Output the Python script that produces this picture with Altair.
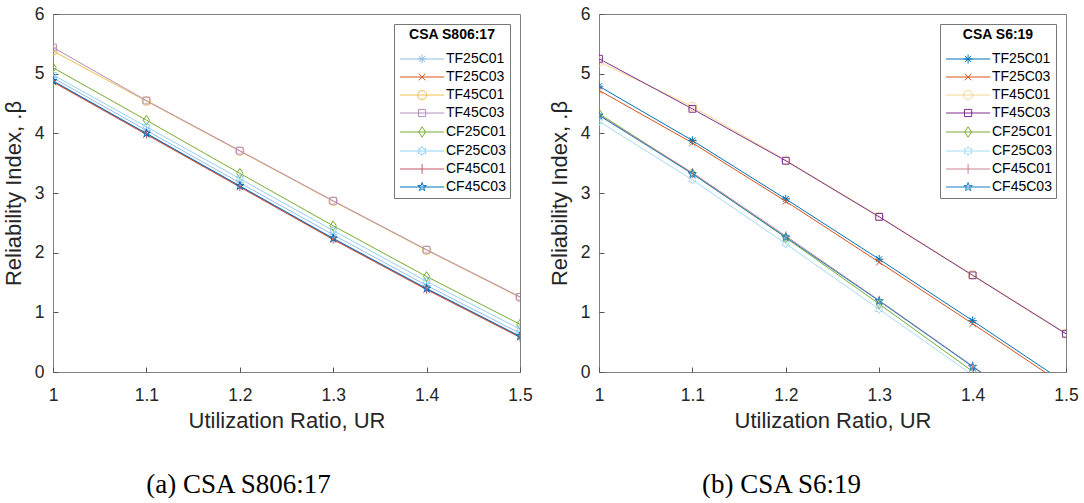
import re
import altair as alt
import pandas as pd

# ---------------- data ----------------
ur = [1.0, 1.1, 1.2, 1.3, 1.4, 1.5]
series = ["TF25C01", "TF25C03", "TF45C01", "TF45C03",
          "CF25C01", "CF25C03", "CF45C01", "CF45C03"]

# (a) CSA S806:17
a_tf25c01 = [4.93, 4.05, 3.17, 2.30, 1.45, 0.65]
a_tf25c03 = [4.86, 3.98, 3.10, 2.22, 1.38, 0.58]
a_tf45c01 = [5.38, 4.54, 3.70, 2.86, 2.04, 1.25]
a_tf45c03 = [5.44, 4.55, 3.71, 2.87, 2.05, 1.26]
a_cf25c01 = [5.10, 4.22, 3.33, 2.45, 1.60, 0.80]
a_cf25c03 = [4.98, 4.11, 3.24, 2.37, 1.52, 0.72]
a_cf45c01 = [4.87, 3.99, 3.11, 2.23, 1.39, 0.59]
a_cf45c03 = [4.88, 4.00, 3.12, 2.24, 1.40, 0.60]

# (b) CSA S6:19
b_tf25c01 = [4.79, 3.88, 2.90, 1.89, 0.86, -0.19]
b_tf25c03 = [4.72, 3.84, 2.86, 1.84, 0.81, -0.24]
b_tf45c01 = [5.20, 4.45, 3.55, 2.61, 1.63, 0.65]
b_tf45c03 = [5.25, 4.41, 3.54, 2.60, 1.62, 0.64]
b_cf25c01 = [4.33, 3.33, 2.25, 1.14, 0.01, -1.08]
b_cf25c03 = [4.20, 3.22, 2.15, 1.05, -0.05, -1.12]
b_cf45c01 = [4.31, 3.34, 2.28, 1.20, 0.10, -1.00]
b_cf45c03 = [4.30, 3.32, 2.26, 1.19, 0.09, -1.02]

colors_a = ["#93bde3", "#D95319", "#f0be4c", "#b58cbf",
            "#77AC30", "#8fd3f2", "#c2566a", "#0072BD"]
colors_b = ["#0072BD", "#D95319", "#f5d48c", "#7E2F8E",
            "#77AC30", "#a6dcf5", "#d0808f", "#1a7fc4"]

x_ticks = [1.0, 1.1, 1.2, 1.3, 1.4, 1.5]
y_ticks = [0, 1, 2, 3, 4, 5, 6]

# ---------------- marker symbols ----------------
marker_paths = [
    "M-1,0L1,0M0,-1L0,1M-0.7,-0.7L0.7,0.7M-0.7,0.7L0.7,-0.7",          # *
    "M-0.75,-0.75L0.75,0.75M-0.75,0.75L0.75,-0.75",                     # x
    None,                                                               # circle
    "M-0.8,-0.8L0.8,-0.8L0.8,0.8L-0.8,0.8Z",                            # square
    "M0,-1.15L0.75,0L0,1.15L-0.75,0Z",                                  # diamond
    "M0,-1L0.289,-0.5L0.866,-0.5L0.577,0L0.866,0.5L0.289,0.5L0,1L-0.289,0.5L-0.866,0.5L-0.577,0L-0.866,-0.5L-0.289,-0.5Z",  # hexagram
    "M0,-1.1L0,1.1",                                                    # |
    "M0,-1L0.225,-0.309L0.951,-0.309L0.363,0.118L0.588,0.809L0,0.382L-0.588,0.809L-0.363,0.118L-0.951,-0.309L-0.225,-0.309Z",  # pentagram
]
MK_SHIFT = 3.8
LINE_L, LINE_R = -1.1, 8.7


def circle(cx):
    return f"M{cx+1},0A1,1 0 1 1 {cx-1},0A1,1 0 1 1 {cx+1},0Z"


def shift(p, dx):
    return re.sub(r"(-?\d*\.?\d+),(-?\d*\.?\d+)",
                  lambda m: f"{float(m.group(1)) + dx:.3f},{m.group(2)}", p)


plot_shapes = [circle(0) if p is None else p for p in marker_paths]
legend_shapes = [f"M{LINE_L},0L{LINE_R},0" + (circle(MK_SHIFT) if p is None else shift(p, MK_SHIFT))
                 for p in marker_paths]

FONT = "Liberation Sans"
W, H = 467, 358


def panel(values, colors, legend_title, caption, cap_dx):
    rows = []
    for name, vals in zip(series, values):
        for u, b in zip(ur, vals):
            rows.append({"ur": u, "beta": b, "series": name, "mk": name + "_m"})
    df = pd.DataFrame(rows)

    domain = series + [s + "_m" for s in series]
    cscale = alt.Scale(domain=domain, range=colors + colors)
    sscale = alt.Scale(domain=domain, range=legend_shapes + plot_shapes)
    xscale = alt.Scale(domain=[1, 1.5], nice=False)
    yscale = alt.Scale(domain=[0, 6], nice=False)

    x_main = alt.Axis(orient="bottom", values=x_ticks, format="~g", title="Utilization Ratio, UR",
                      ticks=False, tickSize=0, labelPadding=14, titlePadding=7, labelFlush=False,
                      grid=False, domain=False)
    y_main = alt.Axis(orient="left", values=y_ticks, format="d", title="Reliability Index, .β",
                      ticks=False, tickSize=0, labelPadding=9, titlePadding=9, labelFlush=False,
                      grid=False, domain=False)
    x_in = alt.Axis(orient="top", offset=-H, values=x_ticks, labels=False, title=None,
                    ticks=True, tickSize=5, tickColor="#555", grid=False, domain=False)
    y_in = alt.Axis(orient="right", offset=-W, values=y_ticks, labels=False, title=None,
                    ticks=True, tickSize=5, tickColor="#555", grid=False, domain=False)

    leg = alt.Legend(
        title=legend_title, orient="top-right", offset=10, values=series,
        symbolSize=81, symbolStrokeWidth=1, symbolOpacity=1,
        labelFont=FONT, labelFontSize=14, labelColor="#000", labelOffset=34,
        titleFont=FONT, titleFontSize=14, titleFontWeight="bold", titleColor="#000",
        titleAnchor="middle", titlePadding=10,
        strokeColor="#777", fillColor="white", padding=4, rowPadding=4,
    )
    base = alt.Chart(df)
    legend_layer = base.mark_point(filled=False, strokeWidth=1, size=81, opacity=0, clip=True).encode(
        x=alt.X("ur:Q", scale=xscale, axis=x_main),
        y=alt.Y("beta:Q", scale=yscale, axis=y_main),
        color=alt.Color("series:N", scale=cscale, legend=leg),
        shape=alt.Shape("series:N", scale=sscale, legend=leg),
    )
    lines = base.mark_line(strokeWidth=1, clip=True).encode(
        x=alt.X("ur:Q", scale=xscale, axis=None),
        y=alt.Y("beta:Q", scale=yscale, axis=None),
        color=alt.Color("series:N", scale=cscale, legend=leg),
    )
    points = base.mark_point(filled=False, strokeWidth=1, size=72, clip=True, opacity=1).encode(
        x=alt.X("ur:Q", scale=xscale, axis=x_in),
        y=alt.Y("beta:Q", scale=yscale, axis=y_in),
        color=alt.Color("mk:N", scale=cscale, legend=leg),
        shape=alt.Shape("mk:N", scale=sscale, legend=leg),
    )
    return alt.layer(legend_layer, lines, points).properties(
        width=W, height=H,
        title=alt.TitleParams(caption, orient="bottom", anchor="middle", frame="group",
                              font="Liberation Serif", fontSize=27, fontWeight="normal",
                              color="#000", offset=40, dx=cap_dx),
    )


left = panel([a_tf25c01, a_tf25c03, a_tf45c01, a_tf45c03,
              a_cf25c01, a_cf25c03, a_cf45c01, a_cf45c03],
             colors_a, "CSA S806:17", "(a) CSA S806:17", -48)
right = panel([b_tf25c01, b_tf25c03, b_tf45c01, b_tf45c03,
               b_cf25c01, b_cf25c03, b_cf45c01, b_cf45c03],
              colors_b, "CSA S6:19", "(b) CSA S6:19", -51)

chart = alt.hconcat(left, right, spacing=14).resolve_scale(
    color="independent", shape="independent"
).properties(
    padding={"left": 1, "top": 4, "right": 0, "bottom": 0},
    background="white",
).configure_view(
    stroke="#808080", strokeWidth=1
).configure_axis(
    labelFont=FONT, labelFontSize=17.5, labelColor="#262626",
    titleFont=FONT, titleFontSize=22, titleFontWeight="normal", titleColor="#262626",
)

chart.save("out.html", embed_options={"renderer": "svg", "actions": False})
